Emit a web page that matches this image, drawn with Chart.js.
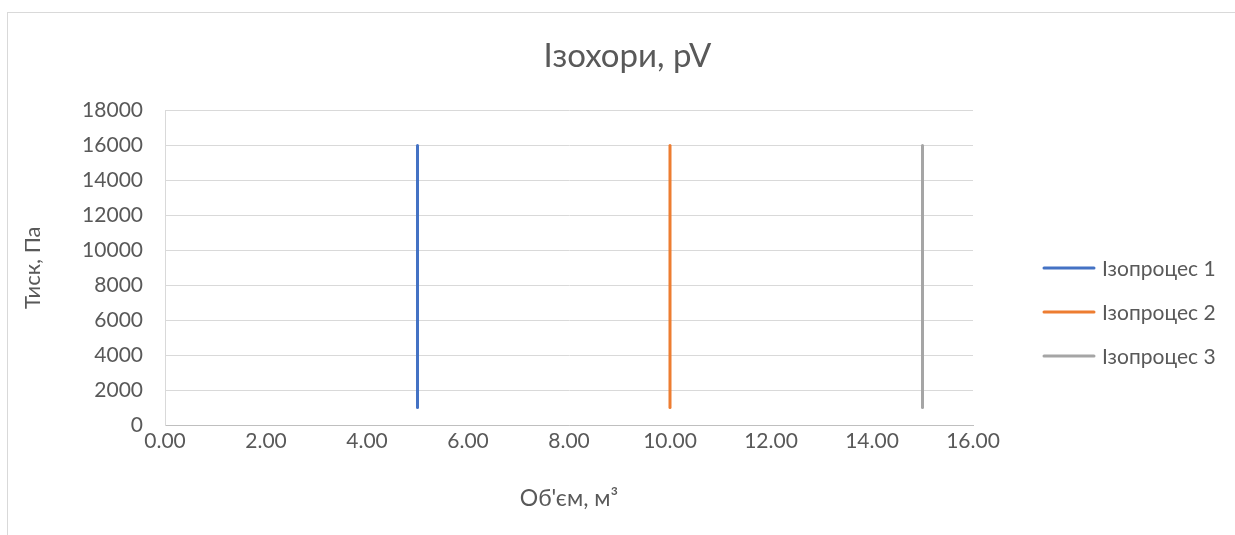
<!DOCTYPE html>
<html>
<head>
<meta charset="utf-8">
<script src="https://cdn.jsdelivr.net/npm/chart.js@4"></script>
<style>
  html, body { margin: 0; padding: 0; background: #fff; overflow: hidden; }
  #frame { position: absolute; left: 7px; top: 12px; width: 1300px; height: 600px; border: 1px solid #d9d9d9; }
  #chart { position: absolute; left: 0; top: 0; }
</style>
</head>
<body>
<div id="frame"></div>
<canvas id="chart" width="1235" height="535"></canvas>
<script>
const seriesNames = ['Ізопроцес 1', 'Ізопроцес 2', 'Ізопроцес 3'];
const volumes = [5, 10, 15];
const pressures = [1000, 16000];
const colors = ['#4472C4', '#ED7D31', '#A5A5A5'];

const textColor = '#595959';
const fontFamily = 'Lato, "Open Sans", sans-serif';

const datasets = seriesNames.map((name, i) => ({
    label: name,
    data: pressures.map(p => ({ x: volumes[i], y: p })),
    borderColor: colors[i],
    backgroundColor: colors[i],
    borderWidth: 3,
    borderCapStyle: 'round',
    pointRadius: 0,
    showLine: true
}));

// legend drawn by hand so it sits where Excel put it
const sideLegend = {
    id: 'sideLegend',
    afterDraw(chart) {
        const ctx = chart.ctx;
        ctx.save();
        ctx.font = '21px ' + fontFamily;
        ctx.textBaseline = 'middle';
        chart.data.datasets.forEach((ds, i) => {
            const y = 268 + i * 44;
            ctx.strokeStyle = ds.borderColor;
            ctx.lineWidth = 3;
            ctx.lineCap = 'round';
            ctx.beginPath();
            ctx.moveTo(1044, y);
            ctx.lineTo(1094, y);
            ctx.stroke();
            ctx.fillStyle = textColor;
            ctx.fillText(ds.label, 1102, y + 1);
        });
        ctx.restore();
    }
};

new Chart(document.getElementById('chart'), {
    type: 'scatter',
    data: { datasets: datasets },
    plugins: [sideLegend],
    options: {
        responsive: false,
        animation: false,
        layout: { padding: { left: 20, right: 0, top: 0, bottom: 23 } },
        plugins: {
            legend: { display: false },
            tooltip: { enabled: false },
            title: {
                display: true,
                text: 'Ізохори, pV',
                color: textColor,
                font: { family: fontFamily, size: 33, weight: 'normal' },
                padding: { top: 37, bottom: 34 }
            }
        },
        scales: {
            x: {
                type: 'linear',
                min: 0,
                max: 16,
                afterFit: s => { s.height = 87; },
                ticks: {
                    stepSize: 2,
                    padding: 4,
                    color: textColor,
                    font: { family: fontFamily, size: 21 },
                    callback: v => v.toFixed(2)
                },
                grid: { display: false, drawTicks: false },
                border: { display: true, color: '#bfbfbf', width: 1 },
                title: {
                    display: true,
                    text: 'Об\'єм, м³',
                    color: textColor,
                    font: { family: fontFamily, size: 23 },
                    padding: { top: 0, bottom: 0 }
                }
            },
            y: {
                min: 0,
                max: 18000,
                afterFit: s => { s.width = 145; },
                ticks: {
                    stepSize: 2000,
                    padding: 22,
                    color: textColor,
                    font: { family: fontFamily, size: 21 },
                    callback: v => String(v)
                },
                grid: { color: '#d9d9d9', drawTicks: false },
                border: { display: true, color: '#d9d9d9' },
                title: {
                    display: true,
                    text: 'Тиск, Па',
                    color: textColor,
                    font: { family: fontFamily, size: 22 },
                    padding: { top: 0, bottom: 0 }
                }
            },
            // empty axis on the right that only reserves room for the legend
            legendSpace: {
                type: 'linear',
                position: 'right',
                afterFit: s => { s.width = 262; },
                ticks: { display: false },
                grid: { display: false, drawTicks: false },
                border: { display: false }
            }
        }
    }
});
</script>
</body>
</html>
